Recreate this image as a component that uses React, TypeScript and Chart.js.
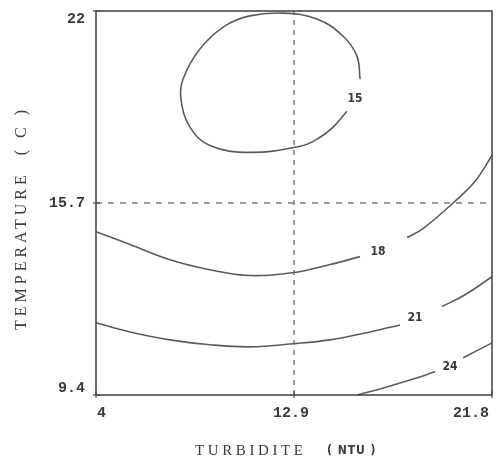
import React, { useEffect, useRef } from "react";
import { Chart, registerables } from "chart.js";

Chart.register(...registerables);

// Axis values
const xMin = 4;
const xMax = 21.8;
const yMin = 9.4;
const yMax = 22;
const xTicks = [4, 12.9, 21.8];
const yTicks = [9.4, 15.7, 22];
const xTickLabels = ["4", "12.9", "21.8"];
const yTickLabels = ["9.4", "15.7", "22"];
const xRef = 12.9;
const yRef = 15.7;

// Contour lines (TURBIDITE, TEMPERATURE)
const contour15: [number, number][] = [
  [15.87, 19.76], [15.73, 20.52], [15.1, 21.18], [13.93, 21.74], [12.41, 21.93],
  [10.92, 21.84], [9.8, 21.51], [8.67, 20.75], [7.91, 19.76], [7.82, 19.11],
  [8.23, 18.18], [9.12, 17.59], [10.92, 17.36],
  [13.17, 17.56], [13.93, 17.79], [14.65, 18.18], [15.28, 18.71],
];
const contour18a: [number, number][] = [
  [4.0, 14.76], [5.53, 14.34], [7.33, 13.84], [9.12, 13.51], [10.92, 13.32],
  [12.81, 13.41], [14.52, 13.68], [15.87, 13.94],
];
const contour18b: [number, number][] = [
  [17.98, 14.57], [18.7, 14.86], [20.23, 15.82], [21.04, 16.41], [21.8, 17.26],
];
const contour21a: [number, number][] = [
  [4.0, 11.77], [5.53, 11.47], [7.33, 11.21], [9.12, 11.05], [10.92, 10.98],
  [12.81, 11.08], [14.52, 11.21], [16.32, 11.47], [17.66, 11.7],
];
const contour21b: [number, number][] = [
  [19.55, 12.3], [20.59, 12.69], [21.8, 13.28],
];
const contour24a: [number, number][] = [
  [15.73, 9.4], [16.77, 9.6], [18.11, 9.89], [19.24, 10.16],
];
const contour24b: [number, number][] = [
  [20.5, 10.62], [21.8, 11.11],
];

// Contour level labels
const levelLabels = ["15", "18", "21", "24"];
const levelLabelX = [15.64, 16.68, 18.34, 19.91];
const levelLabelY = [19.11, 14.1, 11.93, 10.32];

const xTitle = "TURBIDITE";
const xTitleUnit = "( NTU )";
const yTitle = "TEMPERATURE  ( C )";

const lineColor = "#5c5c5c";
const textColor = "#3a3a3a";

const toPts = (a: [number, number][]) => a.map(([x, y]) => ({ x, y }));

export default function App() {
  const ref = useRef<HTMLCanvasElement | null>(null);

  useEffect(() => {
    document.body.style.margin = "0";
    document.body.style.background = "#ffffff";
    const canvas = ref.current;
    if (!canvas) return;

    const lineDs = (data: [number, number][]) => ({
      data: toPts(data),
      showLine: true,
      borderColor: lineColor,
      borderWidth: 1.6,
      pointRadius: 0,
      tension: 0.4,
      fill: false,
      clip: 6,
    });

    const framePlugin = {
      id: "framePlugin",
      afterDraw(chart: any) {
        const ctx = chart.ctx as CanvasRenderingContext2D;
        const { left, right, top, bottom } = chart.chartArea;
        const xs = chart.scales.x;
        const ys = chart.scales.y;
        ctx.save();
        // frame
        ctx.strokeStyle = "#4a4a4a";
        ctx.lineWidth = 1.6;
        ctx.strokeRect(left, top, right - left, bottom - top);
        // small tick marks
        ctx.lineWidth = 1.2;
        xTicks.forEach((v) => {
          const px = xs.getPixelForValue(v);
          ctx.beginPath();
          ctx.moveTo(px, bottom + 3);
          ctx.lineTo(px, bottom - 4);
          ctx.stroke();
        });
        yTicks.forEach((v) => {
          const py = ys.getPixelForValue(v);
          ctx.beginPath();
          ctx.moveTo(left - 3, py);
          ctx.lineTo(left + 4, py);
          ctx.stroke();
        });
        // tick labels
        ctx.fillStyle = textColor;
        ctx.font = 'bold 15px "Liberation Mono", "DejaVu Sans Mono", monospace';
        ctx.textBaseline = "middle";
        xTicks.forEach((v, i) => {
          const px = xs.getPixelForValue(v);
          if (i === 0) {
            ctx.textAlign = "left";
            ctx.fillText(xTickLabels[i], px + 1, bottom + 18);
          } else if (i === xTicks.length - 1) {
            ctx.textAlign = "right";
            ctx.fillText(xTickLabels[i], px - 3, bottom + 18);
          } else {
            ctx.textAlign = "center";
            ctx.fillText(xTickLabels[i], px - 3, bottom + 18);
          }
        });
        ctx.textAlign = "right";
        yTicks.forEach((v, i) => {
          let py = ys.getPixelForValue(v);
          if (i === 0) py -= 7;
          if (i === yTicks.length - 1) py += 8;
          ctx.fillText(yTickLabels[i], left - 11, py);
        });
        // contour labels
        ctx.font = 'bold 12px "Liberation Sans Narrow", "DejaVu Sans Condensed", "DejaVu Sans", sans-serif';
        ctx.textAlign = "center";
        levelLabels.forEach((t, i) => {
          ctx.fillText(t, xs.getPixelForValue(levelLabelX[i]), ys.getPixelForValue(levelLabelY[i]));
        });
        // x title
        ctx.font = '15px "Liberation Serif", "DejaVu Serif", serif';
        (ctx as any).letterSpacing = "3.6px";
        ctx.textAlign = "left";
        ctx.fillText(xTitle, 195, 451);
        ctx.font = 'bold 12px "Liberation Sans Narrow", "DejaVu Sans Condensed", sans-serif';
        (ctx as any).letterSpacing = "1px";
        ctx.fillText(xTitleUnit, 327, 451);
        // y title
        ctx.translate(22, 330);
        ctx.rotate(-Math.PI / 2);
        ctx.font = '16px "Liberation Serif", "DejaVu Serif", serif';
        (ctx as any).letterSpacing = "4px";
        ctx.textAlign = "left";
        ctx.fillText(yTitle, 0, 0);
        ctx.restore();
      },
    };

    const chart = new Chart(canvas, {
      type: "scatter",
      data: {
        datasets: [
          lineDs(contour15),
          lineDs(contour18a),
          lineDs(contour18b),
          lineDs(contour21a),
          lineDs(contour21b),
          lineDs(contour24a),
          lineDs(contour24b),
          {
            data: [{ x: xRef, y: yMin }, { x: xRef, y: yMax }],
            showLine: true,
            borderColor: "#6a6a6a",
            borderWidth: 1.3,
            borderDash: [5, 5],
            pointRadius: 0,
            fill: false,
          },
          {
            data: [{ x: xMin, y: yRef }, { x: xMax, y: yRef }],
            showLine: true,
            borderColor: "#6a6a6a",
            borderWidth: 1.3,
            borderDash: [6, 6],
            pointRadius: 0,
            fill: false,
          },
        ],
      },
      options: {
        animation: false,
        responsive: false,
        devicePixelRatio: 1,
        layout: { padding: { left: 96, right: 8, top: 11, bottom: 67 } },
        plugins: { legend: { display: false }, tooltip: { enabled: false } },
        scales: {
          x: { type: "linear", min: xMin, max: xMax, display: false },
          y: { type: "linear", min: yMin, max: yMax, display: false },
        },
      },
      plugins: [framePlugin],
    } as any);

    return () => chart.destroy();
  }, []);

  return (
    <div style={{ width: 500, height: 462, background: "#fff" }}>
      <canvas ref={ref} width={500} height={462} style={{ display: "block" }} />
    </div>
  );
}
